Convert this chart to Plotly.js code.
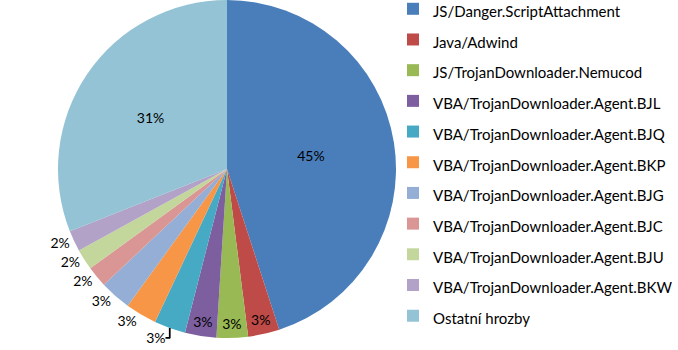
<!DOCTYPE html>
<html>
<head>
<meta charset="utf-8">
<script src="https://cdn.plot.ly/plotly-3.0.1.min.js"></script>
<style>html,body{margin:0;padding:0;background:#fff;}#chart{width:678px;height:350px;}</style>
</head>
<body>
<div id="chart"></div>
<script>
const labels = [
  "JS/Danger.ScriptAttachment",
  "Java/Adwind",
  "JS/TrojanDownloader.Nemucod",
  "VBA/TrojanDownloader.Agent.BJL",
  "VBA/TrojanDownloader.Agent.BJQ",
  "VBA/TrojanDownloader.Agent.BKP",
  "VBA/TrojanDownloader.Agent.BJG",
  "VBA/TrojanDownloader.Agent.BJC",
  "VBA/TrojanDownloader.Agent.BJU",
  "VBA/TrojanDownloader.Agent.BKW",
  "Ostatní hrozby"
];
const values = [45, 3, 3, 3, 3, 3, 3, 2, 2, 2, 31];
const colors = ["#4A7EBB", "#BE4B48", "#98B954", "#7D5FA0", "#46AAC5", "#F79646",
                "#95AED6", "#DA9694", "#C3D69B", "#B3A2C7", "#93C3D5"];
const textPositions = ["inside", "inside", "inside", "inside", "outside", "outside",
                       "outside", "outside", "outside", "outside", "inside"];

const FONT = "Lato, 'Open Sans', sans-serif";

const trace = {
  type: "pie",
  labels: labels.map(l => '<span style="font-size:15px">' + l + '</span>'),
  values: values,
  sort: false,
  direction: "clockwise",
  rotation: 0,
  marker: {colors: colors, line: {width: 0}},
  textinfo: "percent",
  textposition: textPositions,
  insidetextorientation: "horizontal",
  textfont: {family: FONT, size: 14, color: "#000"},
  hoverinfo: "label+percent",
  domain: {x: [57/678, 397/678], y: [12/350, 1]},
  automargin: false
};

const layout = {
  width: 678, height: 350,
  margin: {l: 0, r: 0, t: 0, b: 0, autoexpand: false},
  paper_bgcolor: "#fff",
  showlegend: true,
  legend: {
    x: 393/678, xanchor: "left",
    y: 1.033, yanchor: "top",
    maxheight: 400,
    font: {family: FONT, size: 21.3, color: "#000"},
    bgcolor: "rgba(0,0,0,0)",
    traceorder: "normal"
  },
  font: {family: FONT}
};

Plotly.newPlot("chart", [trace], layout, {displayModeBar: false, staticPlot: true});
</script>
</body>
</html>
